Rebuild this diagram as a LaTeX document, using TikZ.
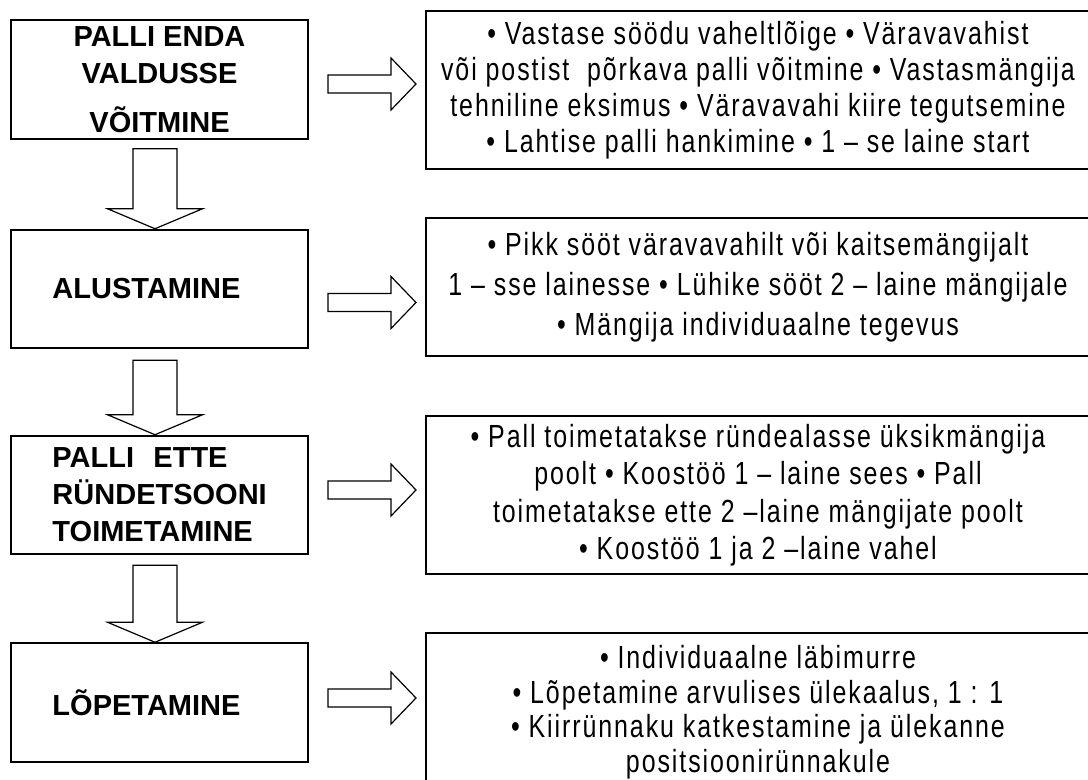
\documentclass[tikz,border=0pt]{standalone}
\usepackage{fontspec}
\setmainfont{Liberation Sans}
\newfontfamily\narrowfont[FakeStretch=0.78, LetterSpace=6]{Liberation Sans}
\usetikzlibrary{calc}

\begin{document}
\begin{tikzpicture}[
  x=0.5pt, y=-0.5pt,
  stage/.style={draw, line width=1pt, minimum width=148.5pt, minimum height=59.25pt, inner sep=0pt, align=center, font=\fontsize{14.5}{18.5}\selectfont\bfseries},
  stageleft/.style={stage, text width=107pt, align=left},
  info/.style={draw, line width=1pt, minimum width=332pt, minimum height=79pt, inner sep=0pt, align=center, font=\narrowfont\fontsize{16}{18}\selectfont},
  downblock/.style={draw, line width=0.6pt, to path={let \p1=(\tikztostart), \p2=(\tikztotarget) in
    (\x1-11pt,\y1) -- (\x1+11pt,\y1) -- (\x1+11pt,\y2+10pt) -- (\x1+23.75pt,\y2+10pt) -- (\x1,\y2)
    -- (\x1-23.75pt,\y2+10pt) -- (\x1-11pt,\y2+10pt) -- cycle}},
  rightblock/.style={draw, line width=0.6pt, to path={let \p1=(\tikztostart), \p2=(\tikztotarget) in
    (\x1,\y1+4.5pt) -- (\x2-12.5pt,\y1+4.5pt) -- (\x2-12.5pt,\y1+13pt) -- (\x2,\y1)
    -- (\x2-12.5pt,\y1-13pt) -- (\x2-12.5pt,\y1-4.5pt) -- (\x1,\y1-4.5pt) -- cycle}}
]
  \useasboundingbox (0,0) rectangle (1088,780);
  \clip (0,0) rectangle (1088,780);

  % Etapid
  \node[stage] (valdus) at (159.5,79.5) {PALLI ENDA\\ VALDUSSE\\[6pt] VÕITMINE};
  \node[stageleft] (alustamine) at (159.5,289) {ALUSTAMINE};
  \node[stageleft] (toimetamine) at (159.5,495) {PALLI~ ETTE\\ RÜNDETSOONI\\ TOIMETAMINE};
  \node[stageleft] (lopetamine) at (159.5,702.5) {LÕPETAMINE};

  % Tegevused
  \node[info] (valdusinfo) at (758,90) {• Vastase söödu vaheltlõige • Väravavahist\\ või postist~ põrkava palli võitmine • Vastasmängija\\ tehniline eksimus • Väravavahi kiire tegutsemine\\ • Lahtise palli hankimine • 1 – se laine start};
  \node[info, minimum height=69pt, font=\narrowfont\fontsize{16}{20}\selectfont] (alustamineinfo) at (758,287) {• Pikk sööt väravavahilt või kaitsemängijalt\\ 1 – sse lainesse • Lühike sööt 2 – laine mängijale\\ • Mängija individuaalne tegevus};
  \node[info, font=\narrowfont\fontsize{16}{18.75}\selectfont] (toimetamineinfo) at (758,495) {• Pall toimetatakse ründealasse üksikmängija\\ poolt • Koostöö 1 – laine sees • Pall\\ toimetatakse ette 2 –laine mängijate poolt\\ • Koostöö 1 ja 2 –laine vahel};
  \node[info, font=\narrowfont\fontsize{16}{17.25}\selectfont] (lopetamineinfo) at (758,712) {• Individuaalne läbimurre\\ • Lõpetamine arvulises ülekaalus, 1 : 1\\ • Kiirrünnaku katkestamine ja ülekanne\\ positsioonirünnakule};

  \draw[downblock] ([xshift=-2.25pt, yshift=-4.5pt]valdus.south) to ([xshift=-2.25pt]alustamine.north);
  \draw[downblock] ([xshift=-2.25pt, yshift=-5.5pt]alustamine.south) to ([xshift=-2.25pt]toimetamine.north);
  \draw[downblock] ([xshift=-2.25pt, yshift=-5pt]toimetamine.south) to ([xshift=-2.25pt]lopetamine.north);

  \draw[rightblock] ([xshift=9.5pt, yshift=-2.25pt]valdus.east) to ([xshift=-4.5pt]valdusinfo.west);
  \draw[rightblock] ([xshift=9.5pt, yshift=-6.75pt]alustamine.east) to ([xshift=-4.5pt]alustamineinfo.west);
  \draw[rightblock] ([xshift=9.5pt, yshift=2.5pt]toimetamine.east) to ([xshift=-4.5pt]toimetamineinfo.west);
  \draw[rightblock] ([xshift=9.5pt, yshift=2.25pt]lopetamine.east) to ([xshift=-4.5pt]lopetamineinfo.west);

\end{tikzpicture}
\end{document}
